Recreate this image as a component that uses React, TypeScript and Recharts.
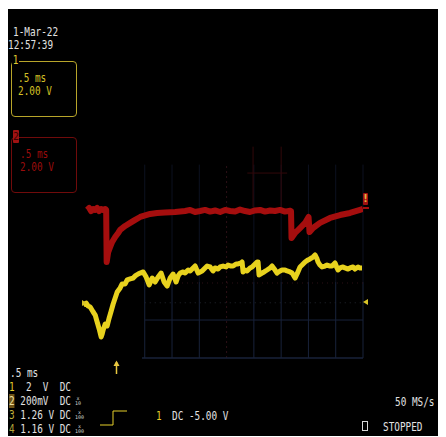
import React from 'react';
import { LineChart, Line, XAxis, YAxis, ReferenceLine } from 'recharts';

// Channel 1 (yellow) samples: time in ms, amplitude in V
const ch1Time = [
    -0.128, -0.073, -0.037, 0, 0.055, 0.092, 0.128, 0.165, 0.201, 0.22,
    0.238, 0.275, 0.311, 0.348, 0.385, 0.421, 0.458, 0.495, 0.549, 0.586,
    0.641, 0.678, 0.733, 0.788, 0.824, 0.879, 0.916, 0.971, 1.026, 1.081,
    1.136, 1.19, 1.245, 1.3, 1.355, 1.41, 1.465, 1.52, 1.575, 1.612,
    1.648, 1.703, 1.74, 1.795, 1.832, 1.886, 1.923, 1.978, 2.015, 2.051,
    2.106, 2.143, 2.198, 2.253, 2.289, 2.344, 2.381, 2.436, 2.491, 2.527,
    2.582, 2.619, 2.674, 2.711, 2.766, 2.784, 2.802, 2.839, 2.875, 2.93,
    2.967, 3.022, 3.059, 3.077, 3.095, 3.15, 3.187, 3.242, 3.297, 3.333,
    3.388, 3.425, 3.48, 3.516, 3.571, 3.608, 3.663, 3.7, 3.755, 3.791,
    3.846, 3.883, 3.938, 3.993, 4.029, 4.084, 4.121, 4.158, 4.176, 4.212,
    4.249, 4.304, 4.341, 4.396, 4.432, 4.487, 4.524, 4.542, 4.579, 4.634,
    4.67, 4.725, 4.762, 4.817, 4.853, 4.908, 4.945, 4.982,
];
const ch1Volts = [
    -0.16, -0.02, -0.24, -0.31, -0.67, -0.89, -1.39, -1.9, -2.48, -2.26,
    -1.97, -1.54, -1.68, -1.1, -0.6, -0.09, 0.34, 0.78, 1.07, 1.36,
    1.36, 1.65, 1.72, 1.79, 1.94, 2.08, 2.15, 2.23, 1.86, 1.29,
    1.79, 1.5, 1.86, 2.15, 1.5, 1.21, 1.79, 2.08, 1.5, 1.94,
    2.15, 2.23, 2.15, 2.37, 2.3, 2.52, 2.66, 2.15, 2.23, 2.3,
    2.52, 2.66, 2.59, 2.3, 2.52, 2.44, 2.59, 2.66, 2.59, 2.73,
    2.66, 2.66, 2.81, 2.81, 2.88, 2.95, 2.23, 2.37, 2.3, 2.52,
    2.59, 2.81, 2.95, 2.95, 2.01, 2.15, 2.23, 2.37, 2.52, 2.66,
    2.37, 2.15, 2.3, 2.37, 2.37, 2.3, 2.23, 2.15, 1.79, 2.08,
    2.59, 2.73, 2.95, 3.1, 3.17, 3.31, 3.46, 3.17, 2.95, 2.73,
    2.59, 2.66, 2.73, 2.66, 2.66, 2.88, 2.52, 2.37, 2.52, 2.59,
    2.52, 2.44, 2.52, 2.59, 2.44, 2.59, 2.52, 2.52,
];

// Channel 2 (red) samples, drawn on the same screen scale
const ch2Time = [
    -0.055, -0.018, 0.018, 0.055, 0.092, 0.128, 0.165, 0.201, 0.238, 0.275,
    0.293, 0.302, 0.33, 0.366, 0.403, 0.458, 0.513, 0.549, 0.641, 0.733,
    0.824, 0.916, 1.007, 1.099, 1.227, 1.374, 1.557, 1.74, 1.832, 1.923,
    2.015, 2.106, 2.198, 2.289, 2.381, 2.473, 2.564, 2.656, 2.747, 2.839,
    2.93, 3.022, 3.114, 3.205, 3.297, 3.388, 3.48, 3.571, 3.663, 3.681,
    3.69, 3.755, 3.846, 3.938, 4.002, 4.02, 4.084, 4.212, 4.396, 4.579,
    4.762, 4.945, 5.0,
];
const ch2Volts = [
    6.72, 6.86, 6.64, 6.79, 6.72, 6.86, 6.64, 6.79, 6.72, 6.79,
    6.72, 2.95, 3.67, 4.04, 4.4, 4.76, 5.05, 5.27, 5.56, 5.78,
    6.0, 6.21, 6.32, 6.43, 6.5, 6.53, 6.57, 6.64, 6.72, 6.57,
    6.64, 6.72, 6.6, 6.68, 6.57, 6.72, 6.64, 6.6, 6.75, 6.64,
    6.57, 6.68, 6.72, 6.6, 6.68, 6.64, 6.72, 6.6, 6.66, 6.64,
    4.69, 5.05, 5.41, 5.78, 6.21, 5.12, 5.41, 5.78, 6.14, 6.35,
    6.5, 6.72, 6.79,
];

// graticule lines (ms) that show on screen
const gridTimes = [1.0, 1.5, 2.0, 3.0, 3.5, 4.0, 4.5, 5.0];
const cursorTimes = [2.985, 3.5];

const readoutRows = [
    { ch: '1', scale: ' 2  V ', coupling: 'DC', probe: '' },
    { ch: '2', scale: '200mV ', coupling: 'DC', probe: '10' },
    { ch: '3', scale: '1.26 V', coupling: 'DC', probe: '100' },
    { ch: '4', scale: '1.16 V', coupling: 'DC', probe: '100' },
];
const rowColors = ['#e6d02a', '#f0e0a0', '#c4b33a', '#b3a338'];
const rowTops = [371.6, 385.8, 400, 414.2];

const ch1 = ch1Time.map((t, i) => ({ t, v: ch1Volts[i] }));
const ch2 = ch2Time.map((t, i) => ({ t, v: ch2Volts[i] }));

const YELLOW = '#e8d21e';
const RED = '#a50e0e';
const GRID = '#18223a';
const GRID_FAINT = '#0c1120';
const WHITE = '#e2e2e2';

const mono: React.CSSProperties = {
    position: 'absolute',
    fontFamily: '"DejaVu Sans Mono", monospace',
    fontSize: 12,
    lineHeight: '12px',
    whiteSpace: 'pre',
    transform: 'scaleX(0.78)',
    transformOrigin: 'left top',
};

const Txt = ({ x, y, color = WHITE, children }: { x: number; y: number; color?: string; children: React.ReactNode }) => (
    <div style={{ ...mono, left: x, top: y, color }}>{children}</div>
);

const App = () => {
    return (
        <div style={{ position: 'relative', top: 1, width: 436, height: 428, background: '#000', overflow: 'hidden' }}>
            <div style={{ position: 'absolute', left: 0, top: 0 }}>
                <LineChart width={436} height={428} margin={{ top: 128, right: 81, bottom: 79, left: 74 }}>
                    <XAxis type="number" dataKey="t" domain={[-0.15, 5]} allowDataOverflow hide />
                    <YAxis type="number" domain={[-4, 12]} allowDataOverflow hide />
                    {/* graticule: brighter in the lower half, barely visible above */}
                    {gridTimes.map((t) => (
                        <ReferenceLine key={`gu${t}`} segment={[{ x: t, y: 1.5 }, { x: t, y: 10 }]} stroke={GRID_FAINT} />
                    ))}
                    {gridTimes.map((t) => (
                        <ReferenceLine key={`g${t}`} segment={[{ x: t, y: -4 }, { x: t, y: 1.5 }]} stroke={GRID} />
                    ))}
                    <ReferenceLine segment={[{ x: 2.5, y: -4 }, { x: 2.5, y: 10 }]} stroke="#2c1016" strokeDasharray="2 3" />
                    <ReferenceLine segment={[{ x: 0.95, y: -4 }, { x: 5, y: -4 }]} stroke={GRID} strokeWidth={1.5} />
                    <ReferenceLine segment={[{ x: 1.0, y: -1.25 }, { x: 5, y: -1.25 }]} stroke={GRID} />
                    <ReferenceLine segment={[{ x: 1.0, y: 0 }, { x: 5, y: 0 }]} stroke="#22262f" strokeDasharray="1 4" />
                    <ReferenceLine segment={[{ x: 1.5, y: 1.43 }, { x: 5, y: 1.43 }]} stroke="#2c1016" strokeDasharray="1 4" />
                    {cursorTimes.map((t) => (
                        <ReferenceLine key={`c${t}`} segment={[{ x: t, y: 11.3 }, { x: t, y: 6.9 }]} stroke="#32080a" />
                    ))}
                    <ReferenceLine segment={[{ x: 2.88, y: 9.39 }, { x: 3.61, y: 9.39 }]} stroke="#32080a" />
                    <Line data={ch2} dataKey="v" type="linear" stroke={RED} strokeWidth={6} dot={false} isAnimationActive={false} strokeLinejoin="round" />
                    <Line data={ch1} dataKey="v" type="linear" stroke={YELLOW} strokeWidth={5} dot={false} isAnimationActive={false} strokeLinejoin="round" />
                </LineChart>
            </div>

            {/* date / time stamp */}
            <Txt x={5} y={16.6}>1-Mar-22</Txt>
            <Txt x={0} y={29.6}>12:57:39</Txt>

            {/* channel 1 box */}
            <div style={{ position: 'absolute', left: 3, top: 52, width: 64, height: 54, border: '1px solid #b8a52a', borderRadius: 4 }} />
            <div style={{ ...mono, left: 4, top: 44.6, color: '#e0cc30', background: '#000', padding: '0 1px' }}>1</div>
            <Txt x={10} y={62.6} color="#d4c026">.5 ms</Txt>
            <Txt x={10} y={75.6} color="#d4c026">2.00 V</Txt>

            {/* channel 2 box */}
            <div style={{ position: 'absolute', left: 3, top: 128, width: 64, height: 54, border: '1px solid #700b0b', borderRadius: 4 }} />
            <div style={{ position: 'absolute', left: 5, top: 121, width: 6, height: 13, background: '#a01212', borderRadius: 1, color: '#3a0000', fontFamily: '"DejaVu Sans Mono", monospace', fontSize: 10, lineHeight: '13px', textAlign: 'center' }}>2</div>
            <Txt x={12} y={138.6} color="#9a0c0c">.5 ms</Txt>
            <Txt x={12} y={151.6} color="#9a0c0c">2.00 V</Txt>

            {/* channel 2 level marker */}
            <div style={{ position: 'absolute', left: 355, top: 184, width: 5, height: 12, background: '#a01010', borderRadius: 1, color: '#e0b040', fontFamily: '"DejaVu Sans", sans-serif', fontWeight: 'bold', fontSize: 10, lineHeight: '12px', textAlign: 'center' }}>!</div>
            <div style={{ position: 'absolute', left: 355, top: 198, width: 6, height: 2, background: RED }} />

            {/* timebase and channel readouts */}
            <Txt x={2} y={357.6}>.5 ms</Txt>
            {readoutRows.map((r, i) => (
                <React.Fragment key={r.ch}>
                    <Txt x={1} y={rowTops[i]}>
                        <span style={r.ch === '2' ? { color: rowColors[i], background: '#6e5216' } : { color: rowColors[i] }}>{r.ch}</span>
                        {` ${r.scale} ${r.coupling}`}
                    </Txt>
                    {r.probe && (
                        <div style={{ position: 'absolute', left: 67, top: rowTops[i] + 1, color: '#d0d0d0', fontFamily: '"DejaVu Sans Mono", monospace', fontSize: 5, lineHeight: '5px', textAlign: 'center' }}>
                            x<br />{r.probe}
                        </div>
                    )}
                </React.Fragment>
            ))}

            {/* trigger readout */}
            <Txt x={148} y={400.6} color="#e6d02a">1</Txt>
            <Txt x={164} y={400.6}>DC -5.00 V</Txt>

            <Txt x={387} y={386.6}>50 MS/s</Txt>
            <div style={{ position: 'absolute', left: 354, top: 412, width: 4, height: 8, border: '1px solid #d8d8d8' }} />
            <Txt x={375} y={411.6}>STOPPED</Txt>

            {/* markers: ground levels, trigger position, trigger slope */}
            <svg width={436} height={428} style={{ position: 'absolute', left: 0, top: 0, pointerEvents: 'none' }}>
                <polygon points="74,291 78.5,294 74,297" fill="#d8c428" />
                <polygon points="360,290 355,293 360,296" fill="#d8c428" />
                <line x1={108.5} y1={353} x2={108.5} y2={365} stroke="#e8c840" strokeWidth={1.5} />
                <polygon points="105.5,357 108.5,351.5 111.5,357" fill="#e8c840" />
                <polyline points="92,416 105,416 105,402 119,402" fill="none" stroke="#e6d02a" strokeWidth={1} />
            </svg>
        </div>
    );
};

export default App;
